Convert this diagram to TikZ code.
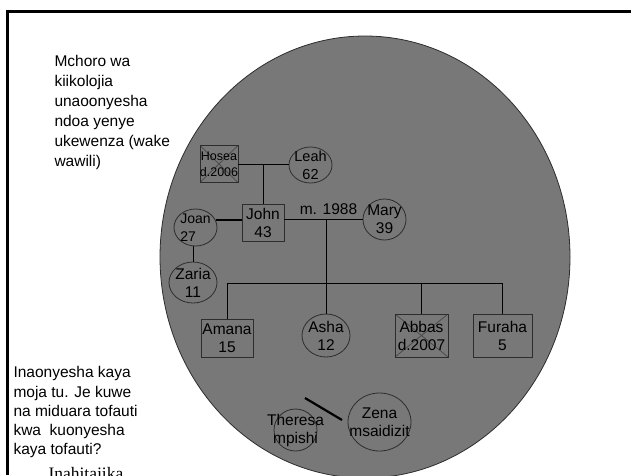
\documentclass[tikz,border=0pt]{standalone}
\usepackage{fontspec}
\setmainfont{Liberation Sans}
\newfontfamily\timesfont{Liberation Serif}
\usetikzlibrary{shapes.geometric}

\definecolor{bubblegray}{RGB}{120,120,120}
\definecolor{edgegray}{RGB}{45,45,45}
\definecolor{crossgray}{RGB}{75,75,75}

\tikzset{
  male/.style={rectangle, draw=edgegray, line width=0.8pt, inner sep=0pt},
  female/.style={ellipse, draw=edgegray, line width=0.8pt, inner sep=0pt},
  dead/.style={path picture={
    \draw[crossgray, line width=0.8pt] (path picture bounding box.north west) -- (path picture bounding box.south east)
      (path picture bounding box.south west) -- (path picture bounding box.north east);}},
  whotext/.style={align=center, inner sep=0pt, font=\fontsize{15.5}{18}\selectfont},
  who/.style={label={[whotext]center:#1}},
  whosmall/.style={label={[whotext, font=\fontsize{12.5}{16}\selectfont]center:#1}},
  note/.style={anchor=north west, align=left, inner sep=0pt},
}

\begin{document}
\begin{tikzpicture}[x=1pt, y=-1pt, line width=1pt]
    \useasboundingbox (0,0) rectangle (631,475);

    % frame and household bubble
    \draw[line width=3pt] (7,475) -- (7,11) -- (631,11);
    \draw[fill=bubblegray, draw=edgegray, line width=0.8pt] (365,257) ellipse [x radius=205pt, y radius=221pt];

    % notes
    \node[note, font=\fontsize{15.5}{20}\selectfont] (title) at (54,55)
      {Mchoro wa\\kiikolojia\\unaoonyesha\\ndoa yenye\\ukewenza (wake\\wawili)};
    \node[note, font=\fontsize{15.5}{19.3}\selectfont] (remark) at (13,366)
      {Inaonyesha kaya\\moja tu. Je kuwe\\na miduara tofauti\\kwa\ \ kuonyesha\\kaya tofauti?};
    \node[anchor=base west, inner sep=0pt, font=\timesfont\fontsize{17.5}{20}\selectfont] (more) at (48,479) {Inahitajika};

    % parents
    \node[male, dead, minimum width=38pt, minimum height=37pt, whosmall={Hosea\\d.2006}] (hosea) at (219,164) {};
    \node[female, minimum width=43pt, minimum height=36pt, label={[whotext, font=\fontsize{14.5}{18}\selectfont]center:Leah\\62}] (leah) at (310.5,165) {};

    % household
    \node[male, minimum width=42pt, minimum height=37pt, who={John\\43}] (john) at (263,222.5) {};
    \node[female, minimum width=43pt, minimum height=37pt, label={[whotext, align=left, font=\fontsize{14}{18}\selectfont]center:Joan\\27}] (joan) at (195.5,227.5) {};
    \node[female, minimum width=48pt, minimum height=41pt, who={Zaria\\11}] (zaria) at (193,282.5) {};
    \node[female, minimum width=43pt, minimum height=41pt, who={Mary\\39}] (mary) at (384.5,219.5) {};
    \node[inner sep=0pt, font=\fontsize{15.5}{18}\selectfont] (wed) at (328.5,209) {m. 1988};
    \coordinate (kids) at (326,283);

    \node[male, minimum width=52pt, minimum height=38pt, who={Amana\\15}] (amana) at (227,338) {};
    \node[female, minimum width=48pt, minimum height=43pt, who={Asha\\12}] (asha) at (326,335.5) {};
    \node[male, dead, minimum width=53pt, minimum height=43pt, who={Abbas\\d.2007}] (abbas) at (421.5,335.5) {};
    \node[male, minimum width=59pt, minimum height=43pt, who={Furaha\\5}] (furaha) at (502.5,335.5) {};

    \node[female, minimum width=43pt, minimum height=42pt, who={Theresa\\mpishi}] (theresa) at (295.5,430) {};
    \node[female, minimum width=63pt, minimum height=58pt, who={Zena\\msaidizit}] (zena) at (379.5,422) {};
    \coordinate (tie1) at (305,398);
    \coordinate (tie2) at (342,420);

    \draw (hosea.east) -- (hosea.east -| leah.west);
    \draw (john.north) -- (john.north |- hosea.east);
    \draw[line width=2.2pt] (joan.20) -- (joan.20 -| john.west);
    \draw (zaria.north) -- (zaria.north |- joan.south);
    \draw (mary.west) -- (mary.west -| john.east);
    \draw (kids) -- (kids |- mary.west);
    \draw (amana.north) -- (amana.north |- kids) -- (furaha.north |- kids) -- (furaha.north);
    \draw (asha.north) -- (asha.north |- kids);
    \draw (abbas.north) -- (abbas.north |- kids);
    \draw[line width=2.2pt] (tie1) -- (tie2);
\end{tikzpicture}
\end{document}
